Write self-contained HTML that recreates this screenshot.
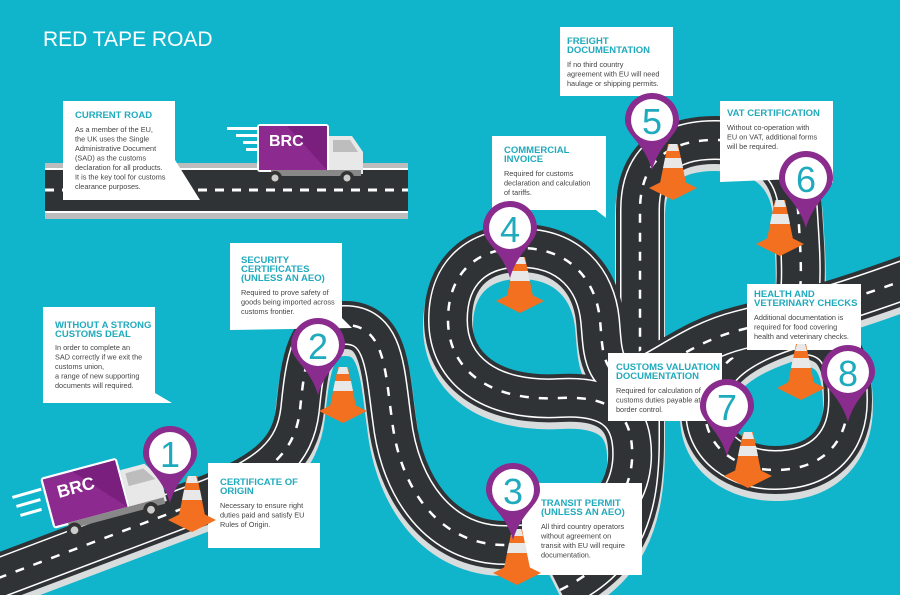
<!DOCTYPE html>
<html><head><meta charset="utf-8"><style>
html,body{margin:0;padding:0;background:#10b5cb;}
svg{display:block}
.t{font-family:"Liberation Sans",sans-serif;}
.h{fill:#20aabd;font-weight:bold;font-size:9.5px;}
.b{fill:#444;font-size:7.3px;}
</style></head><body>
<svg width="900" height="595" viewBox="0 0 900 595" xmlns="http://www.w3.org/2000/svg">
<defs>
<path id="rA" d="M -20,585 L 200,502 C 270,476 295,452 300,410 C 305,360 310,325 345,325 C 385,325 385,370 392,420 C 400,490 440,545 505,545 C 570,545 628,520 632,460 C 634,420 618,395 560,398 C 490,402 448,370 448,320 C 448,270 480,248 520,248 C 570,248 596,280 600,320 C 603,350 600,380 640,382"/>
<path id="rB" d="M 560,590 C 620,560 640,520 640,440 L 640,210 C 640,165 665,140 715,140 C 765,140 795,165 798,210 C 801,260 805,300 790,330 C 760,340 705,360 705,410 C 705,450 740,470 775,470 C 825,470 848,440 848,400 C 848,350 830,335 800,335"/>
<path id="rC" d="M 600,390 C 650,385 680,345 740,330 C 800,315 850,300 910,278"/>
<g id="cone"><polygon points="-24,8 0,-4 24,8 0,20" fill="#f2701f"/><polygon points="-5,-36 5,-36 14,8 -14,8" fill="#f2701f"/><polygon points="-8,-22 8,-22 10,-12 -10,-12" fill="#e8e8e8"/><polygon points="-4,-36 4,-36 6,-29 -6,-29" fill="#e8e8e8"/></g>
<g id="pin"><path d="M -27,0 A 27,27 0 1 1 27,0 C 27,15 8,22 0,50 C -8,22 -27,15 -27,0 Z" fill="#8a2b8e"/><circle r="21" fill="#fff"/></g>
<g id="truck"><rect x="0" y="0" width="72" height="48" rx="3" fill="#fff"/><rect x="2" y="2" width="68" height="44" fill="#8d2a8f"/><polygon points="30,2 70,2 70,46" fill="#7a1f7e"/><path d="M72,12 L95,12 L106,28 L106,50 L72,50Z" fill="#e8e8e8"/><path d="M76,16 L93,16 L101,28 L76,28Z" fill="#bdbdbd"/><rect x="14" y="46" width="90" height="6" fill="#888"/><circle cx="18" cy="54" r="7" fill="#333"/><circle cx="18" cy="54" r="3.5" fill="#ccc"/><circle cx="90" cy="54" r="7" fill="#333"/><circle cx="90" cy="54" r="3.5" fill="#ccc"/><text x="12" y="22" class="t" font-size="16" font-weight="bold" fill="#fff">BRC</text></g>
</defs>
<rect width="900" height="595" fill="#10b5cb"/>
<text x="43" y="46" class="t" font-size="21" fill="#fff">RED TAPE ROAD</text>

<rect x="45" y="163" width="363" height="56" fill="#bdbdbd"/>
<rect x="45" y="168" width="363" height="45" fill="#fff"/>
<rect x="45" y="170" width="363" height="41" fill="#2f3336"/>
<line x1="45" y1="190" x2="408" y2="190" stroke="#fff" stroke-width="3" stroke-dasharray="9 8"/>
<g fill="#fff"><rect x="227" y="127" width="30" height="3"/><rect x="236" y="134" width="22" height="3"/><rect x="243" y="141" width="15" height="3"/><rect x="246" y="148" width="12" height="3"/></g>
<use href="#truck" x="257" y="124"/>

<g fill="none">
<g transform="translate(0,6)" stroke="#d8dcdc" stroke-width="50"><use href="#rA"/><use href="#rB"/><use href="#rC"/></g>
<g stroke="#2f3336" stroke-width="48"><use href="#rB"/></g><g stroke="#fff" stroke-width="40"><use href="#rB"/></g><g stroke="#2f3336" stroke-width="37"><use href="#rB"/></g><g stroke="#fff" stroke-width="2.5" stroke-dasharray="9 10"><use href="#rB"/></g>
<g stroke="#2f3336" stroke-width="48"><use href="#rC"/></g><g stroke="#fff" stroke-width="40"><use href="#rC"/></g><g stroke="#2f3336" stroke-width="37"><use href="#rC"/></g><g stroke="#fff" stroke-width="2.5" stroke-dasharray="9 10"><use href="#rC"/></g>
<g stroke="#2f3336" stroke-width="48"><use href="#rA"/></g><g stroke="#fff" stroke-width="40"><use href="#rA"/></g><g stroke="#2f3336" stroke-width="37"><use href="#rA"/></g><g stroke="#fff" stroke-width="2.5" stroke-dasharray="9 10"><use href="#rA"/></g>
</g>
<g fill="#fff"><rect x="12" y="496" width="30" height="3" transform="rotate(-16 12 496)"/><rect x="16" y="505" width="25" height="3" transform="rotate(-16 16 505)"/><rect x="20" y="514" width="22" height="3" transform="rotate(-16 20 514)"/></g>
<g transform="translate(40,478) rotate(-15) scale(1.1)"><use href="#truck"/></g>

<polygon points="63,101 175,101 175,160 200,200 63,200" fill="#fff"/>
<polygon points="43,307 155,307 155,393 172,403 43,403" fill="#fff"/>
<polygon points="230,243 342,243 342,318 352,328 230,330" fill="#fff"/>
<rect x="208" y="463" width="112" height="85" fill="#fff"/>
<rect x="522" y="483" width="120" height="92" fill="#fff"/>
<polygon points="492,136 606,136 606,218 596,210 492,210" fill="#fff"/>
<rect x="560" y="27" width="113" height="69" fill="#fff"/>
<polygon points="720,101 833,101 833,183 820,178 720,182" fill="#fff"/>
<rect x="747" y="284" width="114" height="66" fill="#fff"/>
<rect x="608" y="353" width="114" height="68" fill="#fff"/>
<g class="t">
<text x="75" y="118" class="h">CURRENT ROAD</text>
<text class="b"><tspan x="75" y="132">As a member of the EU,</tspan><tspan x="75" y="141.5">the UK uses the Single</tspan><tspan x="75" y="151">Administrative Document</tspan><tspan x="75" y="160.5">(SAD) as the customs</tspan><tspan x="75" y="170">declaration for all products.</tspan><tspan x="75" y="179.5">It is the key tool for customs</tspan><tspan x="75" y="189">clearance purposes.</tspan></text>
<text class="h"><tspan x="55" y="328">WITHOUT A STRONG</tspan><tspan x="55" y="337">CUSTOMS DEAL</tspan></text>
<text class="b"><tspan x="55" y="350">In order to complete an</tspan><tspan x="55" y="359.5">SAD correctly if we exit the</tspan><tspan x="55" y="369">customs union,</tspan><tspan x="55" y="378.5">a range of new supporting</tspan><tspan x="55" y="388">documents will required.</tspan></text>
<text class="h"><tspan x="241" y="263">SECURITY</tspan><tspan x="241" y="272">CERTIFICATES</tspan><tspan x="241" y="281">(UNLESS AN AEO)</tspan></text>
<text class="b"><tspan x="241" y="295">Required to prove safety of</tspan><tspan x="241" y="304.5">goods being imported across</tspan><tspan x="241" y="314">customs frontier.</tspan></text>
<text class="h"><tspan x="220" y="485">CERTIFICATE OF</tspan><tspan x="220" y="494">ORIGIN</tspan></text>
<text class="b"><tspan x="220" y="508">Necessary to ensure right</tspan><tspan x="220" y="517.5">duties paid and satisfy EU</tspan><tspan x="220" y="527">Rules of Origin.</tspan></text>
<text class="h"><tspan x="541" y="506">TRANSIT PERMIT</tspan><tspan x="541" y="515">(UNLESS AN AEO)</tspan></text>
<text class="b"><tspan x="541" y="529">All third country operators</tspan><tspan x="541" y="538.5">without agreement on</tspan><tspan x="541" y="548">transit with EU will require</tspan><tspan x="541" y="557.5">documentation.</tspan></text>
<text class="h"><tspan x="504" y="153">COMMERCIAL</tspan><tspan x="504" y="162">INVOICE</tspan></text>
<text class="b"><tspan x="504" y="176">Required for customs</tspan><tspan x="504" y="185.5">declaration and calculation</tspan><tspan x="504" y="195">of tariffs.</tspan></text>
<text class="h"><tspan x="567" y="44">FREIGHT</tspan><tspan x="567" y="53">DOCUMENTATION</tspan></text>
<text class="b"><tspan x="567" y="67">If no third country</tspan><tspan x="567" y="76.5">agreement with EU will need</tspan><tspan x="567" y="86">haulage or shipping permits.</tspan></text>
<text x="727" y="116" class="h">VAT CERTIFICATION</text>
<text class="b"><tspan x="727" y="130">Without co-operation with</tspan><tspan x="727" y="139.5">EU on VAT, additional forms</tspan><tspan x="727" y="149">will be required.</tspan></text>
<text class="h"><tspan x="754" y="297">HEALTH AND</tspan><tspan x="754" y="306">VETERINARY CHECKS</tspan></text>
<text class="b"><tspan x="754" y="320">Additional documentation is</tspan><tspan x="754" y="329.5">required for food covering</tspan><tspan x="754" y="339">health and veterinary checks.</tspan></text>
<text class="h"><tspan x="616" y="370">CUSTOMS VALUATION</tspan><tspan x="616" y="379">DOCUMENTATION</tspan></text>
<text class="b"><tspan x="616" y="393">Required for calculation of</tspan><tspan x="616" y="402.5">customs duties payable at</tspan><tspan x="616" y="412">border control.</tspan></text>
</g>

<use href="#cone" x="192" y="512"/>
<use href="#cone" x="343" y="403"/>
<use href="#cone" x="517" y="565"/>
<use href="#cone" x="520" y="293"/>
<use href="#cone" x="673" y="180"/>
<use href="#cone" x="780" y="236"/>
<use href="#cone" x="748" y="468"/>
<use href="#cone" x="801" y="380"/>

<g class="t" font-size="36" fill="#20aabd" text-anchor="middle">
<use href="#pin" x="170" y="453"/><text x="170" y="467">1</text>
<use href="#pin" x="318" y="345"/><text x="318" y="359">2</text>
<use href="#pin" x="513" y="490"/><text x="513" y="504">3</text>
<use href="#pin" x="510" y="228"/><text x="510" y="242">4</text>
<use href="#pin" x="652" y="120"/><text x="652" y="134">5</text>
<use href="#pin" x="806" y="178"/><text x="806" y="192">6</text>
<use href="#pin" x="727" y="406"/><text x="727" y="420">7</text>
<use href="#pin" x="848" y="372"/><text x="848" y="386">8</text>
</g>
</svg>
</body></html>
